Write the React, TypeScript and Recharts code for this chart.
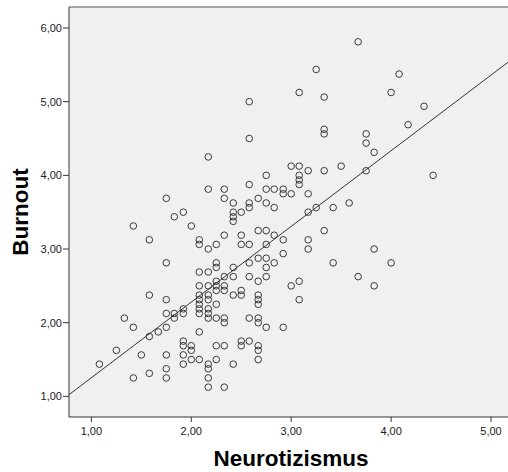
import { ScatterChart, Scatter, XAxis, YAxis, CartesianGrid, ReferenceLine, Label } from 'recharts'

// Neurotizismus score levels (x) and the Burnout scores observed at each level
const neuroLevels = [
  1.08, 1.25, 1.33, 1.42, 1.5, 1.58, 1.67, 1.75, 1.83, 1.92, 2.0, 2.08, 2.17, 2.25, 2.33, 2.42, 2.5,
  2.58, 2.67, 2.75, 2.83, 2.92, 3.0, 3.08, 3.17, 3.25, 3.33, 3.42, 3.5, 3.58, 3.67, 3.75, 3.83, 4.0,
  4.08, 4.17, 4.33, 4.42,
]

const burnoutByLevel = [
  [1.4375],
  [1.625],
  [2.0625],
  [3.3125, 1.9375, 1.25],
  [1.5625],
  [3.125, 2.375, 1.8125, 1.3125],
  [1.875],
  [3.6875, 2.8125, 2.3125, 2.125, 1.9375, 1.5625, 1.375, 1.25],
  [3.4375, 2.125, 2.0625],
  [3.5, 2.1875, 2.125, 1.75, 1.6875, 1.5625, 1.4375],
  [3.3125, 1.6875, 1.625, 1.5],
  [3.125, 3.0625, 2.6875, 2.5, 2.375, 2.3125, 2.25, 2.1875, 2.125, 1.875, 1.5],
  [4.25, 3.8125, 3.0, 2.6875, 2.5, 2.375, 2.3125, 2.1875, 2.125, 2.0625, 1.4375, 1.375, 1.25, 1.125],
  [3.0625, 2.8125, 2.75, 2.5625, 2.5, 2.4375, 2.25, 2.0625, 1.6875, 1.5],
  [3.8125, 3.6875, 3.1875, 2.625, 2.5, 2.4375, 2.0625, 2.0, 1.6875, 1.125],
  [3.625, 3.5, 3.4375, 3.375, 2.75, 2.625, 2.375, 1.4375],
  [3.5, 3.1875, 3.0625, 2.4375, 2.375, 1.75, 1.6875],
  [5.0, 4.5, 3.875, 3.625, 3.5625, 3.0625, 2.8125, 2.625, 2.0625, 1.75],
  [3.6875, 3.25, 2.875, 2.5625, 2.375, 2.3125, 2.25, 2.0625, 2.0, 1.6875, 1.625, 1.5],
  [4.0, 3.8125, 3.625, 3.25, 3.0625, 2.875, 2.75, 2.625, 1.9375],
  [3.8125, 3.5625, 3.1875, 2.8125],
  [3.8125, 3.75, 3.125, 2.9375, 1.9375],
  [4.125, 3.75, 2.5],
  [5.125, 4.125, 4.0, 3.9375, 3.875, 2.5625, 2.3125],
  [4.0625, 3.75, 3.5, 3.125, 3.0],
  [5.4375, 3.5625],
  [5.0625, 4.625, 4.5625, 4.0625, 3.25],
  [3.5625, 2.8125],
  [4.125],
  [3.625],
  [5.8125, 2.625],
  [4.5625, 4.4375, 4.0625],
  [4.3125, 3.0, 2.5],
  [5.125, 2.8125],
  [5.375],
  [4.6875],
  [4.9375],
  [4.0],
]

const xTicks = [1, 2, 3, 4, 5]
const yTicks = [1, 2, 3, 4, 5, 6]
const xDomain = [0.776, 5.17]
const yDomain = [0.72, 6.285]

// linear fit line as drawn in the chart
const fitIntercept = 0.226
const fitSlope = 1.027

const points = neuroLevels.flatMap((x, i) => burnoutByLevel[i].map(y => ({ x, y })))
const fitSegment = xDomain.map(x => ({ x, y: fitIntercept + fitSlope * x }))

const fmt = (v: number) => v.toFixed(2).replace('.', ',')

const tickFont = { fill: '#222', fontSize: 11, fontFamily: 'Liberation Sans, Arial, sans-serif' }
const titleFont = {
  fill: '#000',
  fontSize: 22.5,
  fontWeight: 'bold',
  fontFamily: 'Liberation Sans, Arial, sans-serif',
  textAnchor: 'middle',
} as const

const Ring = (props: any) => (
  <circle cx={props.cx} cy={props.cy} r={3.3} fill="none" stroke="#3a3a3a" strokeWidth={1} />
)

export default function App() {
  return (
    <div style={{ position: 'absolute', left: 0, top: 0, background: '#fff' }}>
      <ScatterChart width={508} height={472} margin={{ top: 7, right: 0, bottom: 25, left: 0 }}>
        <CartesianGrid fill="#f0f0f0" horizontal={false} vertical={false} />
        <XAxis
          type="number"
          dataKey="x"
          domain={xDomain}
          ticks={xTicks}
          allowDataOverflow
          interval={0}
          tickFormatter={fmt}
          height={30}
          tickSize={5}
          tickMargin={5}
          stroke="#333"
          tick={tickFont}
        >
          <Label value="Neurotizismus" position="bottom" offset={3} dx={2.5} style={titleFont} />
        </XAxis>
        <YAxis
          type="number"
          dataKey="y"
          domain={yDomain}
          ticks={yTicks}
          allowDataOverflow
          interval={0}
          tickFormatter={fmt}
          width={69}
          tickSize={6}
          tickMargin={1}
          stroke="#333"
          tick={tickFont}
        >
          <Label value="Burnout" position="insideLeft" angle={-90} offset={20} style={titleFont} />
        </YAxis>
        <ReferenceLine y={yDomain[1]} stroke="#8a8a8a" strokeWidth={1.5} />
        <Scatter data={points} shape={Ring} isAnimationActive={false} />
        <ReferenceLine segment={fitSegment} stroke="#333" strokeWidth={1} ifOverflow="visible" />
      </ScatterChart>
    </div>
  )
}
